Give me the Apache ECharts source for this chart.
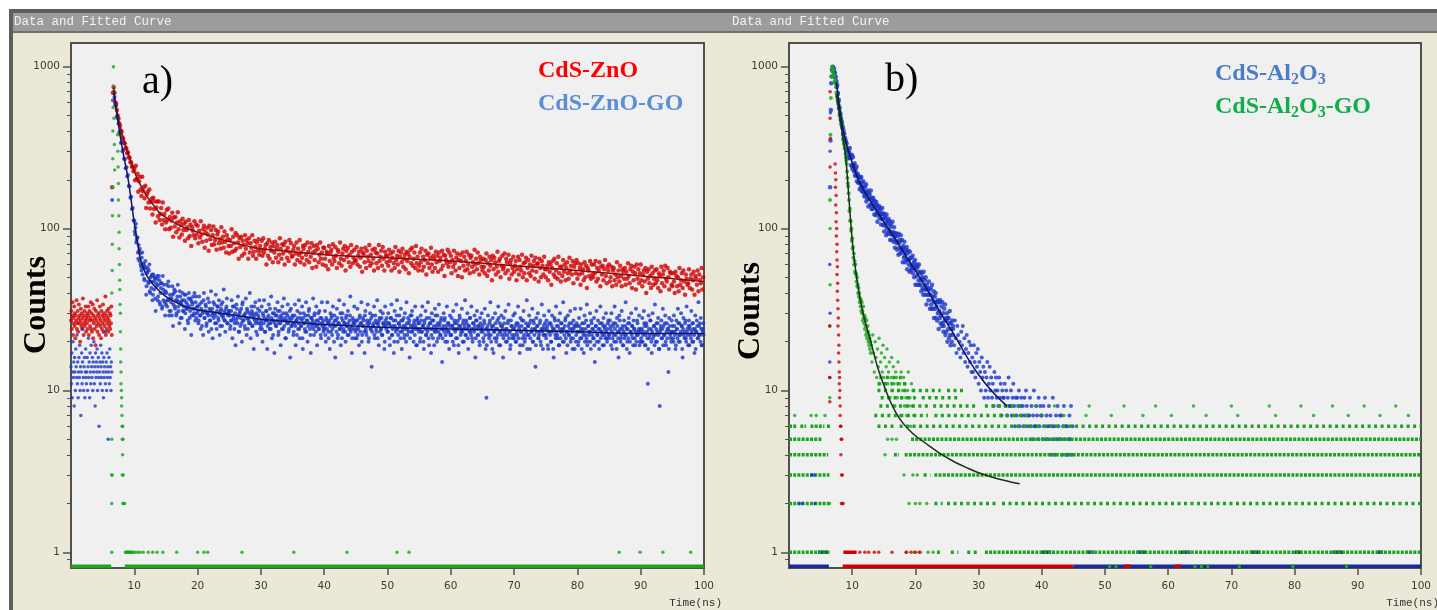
<!DOCTYPE html>
<html>
<head>
<meta charset="utf-8">
<script src="https://cdn.jsdelivr.net/npm/echarts@6.0.0/dist/echarts.min.js"></script>
<style>
  html, body { margin: 0; padding: 0; background: #ffffff; }
  #chart { width: 1437px; height: 610px; }
</style>
</head>
<body>
<div id="chart"></div>
<script>
// ---------------------------------------------------------------------------
// Time-resolved PL decays (TCSPC counts vs time in ns), two panels.
// Channel arrays hold counts at t = t0 + i * dt.
// ---------------------------------------------------------------------------

// Axis ticks
const X_TICKS = [10, 20, 30, 40, 50, 60, 70, 80, 90, 100];
const Y_MAJOR = [1, 10, 100, 1000];
const Y_MINOR = [0.9, 2, 3, 4, 5, 6, 7, 8, 9, 20, 30, 40, 50, 60, 70, 80, 90, 200, 300, 400, 500, 600, 700, 800, 900];
const Y_MIN = 0.8, Y_MAX = 1400;
const ZERO_LEVEL = 0.82;   // zero-count channels sit on the floor of the log axis

// ---------------- panel a : CdS-ZnO / CdS-ZnO-GO ----------------
const PRE_T0 = 0, PRE_DT = 0.0625;
const ZNO_PRE = [27,31,24,29,35,22,28,26,33,25,30,21,29,27,36,24,26,31,23,28,34,26,29,20,27,32,25,30,24,28,37,26,22,29,31,25,27,33,23,28,
  26,30,24,29,33,22,27,31,25,28,35,24,30,23,27,34,21,29,26,32,24,28,19,31,27,25,36,23,29,26,30,22,28,33,25,27,21,31,24,29,
  26,34,23,28,30,25,27,38,22,29,24,31,26,28,23,32,27,25,30,24,29,26,33,22];
const ZNOGO_PRE = [14,11,17,9,13,20,12,15,8,16,13,10,18,14,12,22,11,15,9,13,16,12,19,10,14,7,13,17,11,15,24,12,10,14,16,9,13,18,12,11,
  13,16,10,14,21,12,15,9,17,13,11,19,14,12,16,10,15,13,20,11,14,8,17,12,15,13,18,10,14,16,12,6,13,15,11,19,14,12,17,10,
  15,13,9,16,12,14,23,11,13,15,10,17,12,14,5,13,16,11,18,12,14,10,15,13];

const DECAY_T0 = 6.5, DECAY_DT = 0.125;
const ZNO_DECAY = [
  180,690,745,690,600,592,540,498,478,446,432,402,396,366,358,338,336,314,312,292,296,276,274,258,256,242,241,226,
  234,199,244,203,218,169,196,209,174,159,209,170,180,154,184,134,163,169,145,174,133,146,153,122,155,132,147,109,135,147,119,147,113,123,134,106,145,113,123,99,
  109,130,113,133,99,118,101,112,125,89,117,103,118,95,109,126,99,88,111,105,92,115,98,107,84,110,98,102,87,113,90,106,78,102,97,91,111,87,106,92,
  104,81,97,88,111,92,83,99,104,76,95,84,101,92,73,104,86,98,79,91,103,80,85,98,74,92,96,81,86,75,102,82,89,76,96,83,71,91,86,78,
  70,85,78,99,72,89,81,73,94,75,91,82,65,87,77,89,68,84,79,70,91,75,85,81,65,87,71,81,76,91,68,72,84,77,65,82,73,86,69,78,
  73,84,68,87,71,75,79,60,81,68,85,65,77,73,82,62,78,71,83,66,75,79,62,69,87,75,65,80,70,79,60,83,73,66,76,63,85,71,81,67,
  68,74,78,60,70,82,64,75,69,85,62,71,66,78,75,60,79,69,64,82,72,62,76,67,81,57,71,78,64,73,58,79,75,62,69,82,65,71,60,76,
  76,65,59,72,70,56,78,63,71,74,60,80,66,63,77,68,57,74,72,61,82,65,59,70,75,64,78,55,73,67,76,62,69,58,79,72,61,66,74,63,
  64,77,60,68,72,58,66,75,54,71,69,62,76,57,73,67,63,79,59,69,61,74,65,55,75,71,61,70,57,79,63,67,73,59,77,65,55,72,68,62,
  68,59,74,63,70,55,66,72,61,57,77,64,68,60,73,54,67,71,62,75,58,65,69,56,72,63,70,53,67,74,61,76,59,65,71,57,78,61,67,55,
  59,71,62,75,55,67,58,64,73,52,69,61,70,57,66,76,60,54,68,65,57,72,62,68,54,71,63,66,56,73,59,69,51,68,64,61,74,58,71,62,
  68,53,64,58,73,61,55,66,70,51,64,57,69,63,50,71,59,67,55,63,72,56,60,69,53,66,68,58,62,54,74,60,65,56,71,61,52,67,64,58,
  55,65,58,53,64,70,51,61,55,67,59,64,48,68,56,66,62,52,58,72,54,63,65,50,59,68,56,58,70,53,65,62,55,69,49,61,64,52,57,67,
  54,59,63,48,56,67,52,64,58,55,69,50,61,53,62,66,48,57,64,53,60,51,68,55,59,63,49,66,54,60,61,47,65,57,50,63,59,52,67,56,
  50,56,59,48,62,54,60,45,57,63,52,65,50,55,61,49,67,53,58,47,58,51,64,54,60,48,57,62,53,49,66,55,59,52,63,46,58,61,53,64,
  49,61,52,57,45,60,53,56,48,62,50,59,43,57,55,51,63,49,60,52,50,60,53,63,47,57,49,55,62,44,58,52,59,48,56,64,51,46,58,55,
  60,47,50,58,44,55,57,48,52,45,62,50,55,47,59,51,44,56,54,49,57,45,54,49,61,51,46,56,59,43,54,48,58,53,42,60,49,56,46,53,
  60,48,44,52,55,47,57,40,54,49,56,46,51,43,58,53,45,49,55,46,56,48,43,53,51,41,58,46,52,55,44,59,49,47,57,50,42,54,53,45,
  44,53,47,40,54,51,44,50,41,57,45,48,53,43,55,47,39,52,49,45,46,56,43,49,52,42,48,54,39,51,49,45,55,41,52,48,46,57,42,50
];
const ZNOGO_DECAY = [
  150,620,700,650,578,575,492,481,446,392,385,338,341,300,306,270,268,236,239,210,214,183,182,155,157,132,134,112,
  112,92,107,85,88,65,73,75,60,55,71,57,60,48,63,39,53,57,46,60,40,47,51,36,52,42,49,31,44,51,38,51,35,40,46,32,51,36,40,29,
  34,45,36,47,29,39,31,37,44,25,40,33,41,29,36,45,31,26,38,35,28,40,31,36,24,39,32,34,26,40,28,37,22,35,32,29,40,27,38,30,
  33,26,38,29,24,35,31,22,40,28,34,25,30,37,23,32,27,41,29,21,35,30,26,39,24,33,28,36,22,31,34,25,29,42,27,23,32,37,26,30,
  31,24,27,36,21,29,33,26,19,34,28,38,23,30,25,32,20,35,27,29,24,37,22,31,28,26,40,21,33,25,30,18,29,35,23,27,32,26,36,24,
  25,33,20,29,36,23,27,31,18,28,34,24,26,38,21,30,27,17,32,25,29,35,22,26,31,19,28,33,24,37,27,21,30,26,34,23,28,16,32,25,
  29,22,26,34,19,27,31,24,36,21,28,25,33,18,30,26,23,35,27,20,29,32,24,17,28,26,37,22,30,25,33,19,27,24,31,28,21,35,26,23,
  24,31,20,27,35,23,26,18,30,28,22,33,25,29,16,27,32,21,26,36,24,19,28,30,23,34,26,20,29,25,31,22,27,38,24,17,28,26,33,21,
  27,21,32,24,19,29,26,35,22,28,25,17,31,23,27,34,20,26,30,24,14,29,25,33,21,27,23,36,26,19,28,31,24,22,30,26,18,33,25,28,
  23,30,26,19,28,34,22,25,17,31,27,24,36,20,26,29,23,32,18,27,25,21,30,24,35,22,28,26,16,29,23,31,25,20,27,33,24,19,28,26,
  26,20,29,23,33,25,18,27,31,22,24,35,21,28,26,17,30,24,27,19,32,23,25,29,21,34,26,22,28,15,24,30,27,20,25,33,23,26,18,29,
  22,28,25,31,19,26,24,34,21,27,17,29,25,23,32,20,27,24,36,22,26,30,18,25,28,23,33,21,26,24,29,16,27,31,22,25,20,28,24,30,
  25,21,27,32,18,9,24,29,22,26,35,20,25,28,17,23,30,24,21,27,33,19,26,23,29,25,16,28,22,31,24,20,26,34,23,18,27,25,21,29,
  24,30,20,26,22,33,25,17,28,23,27,19,31,24,21,26,36,22,25,29,18,27,23,32,20,26,24,14,28,25,30,21,23,27,19,34,24,22,29,26,
  22,27,25,18,31,23,26,20,29,24,16,28,22,33,25,21,27,19,30,23,26,24,35,20,25,28,17,23,29,22,26,31,21,24,18,27,25,32,20,26,
  25,19,28,23,32,21,26,24,17,29,22,27,34,20,25,23,30,18,26,24,21,28,15,25,31,22,27,20,24,33,23,26,19,28,22,25,30,21,24,27,
  21,27,24,30,18,25,22,33,26,20,28,23,16,29,24,21,31,25,19,27,22,35,24,20,26,28,17,23,30,25,21,27,24,19,32,22,26,23,29,20,
  24,20,28,22,31,25,19,26,23,11,29,21,27,24,17,30,22,25,34,20,26,23,28,18,8,24,27,21,32,25,22,29,19,26,24,13,28,23,21,27,
  25,21,29,23,18,27,24,32,20,26,22,30,25,16,28,23,26,21,33,24,19,27,25,22,31,20,26,24,17,29,23,27,21,35,25,22,28,19,24,26
];
// second set of CdS-ZnO-GO channels, interleaved half a channel later
const ZNOGO_T0_B = 10.0625;
const ZNOGO_DECAY_B = [
  96,101,82,88,71,79,63,70,58,66,52,61,49,58,57,44,54,47,55,41,50,43,52,39,47,50,37,46,49,36,45,48,34,43,46,33,42,45,35,41,
  40,33,36,44,31,37,35,29,39,34,42,32,36,30,38,33,35,41,28,34,36,31,33,39,30,35,32,27,37,33,31,36,29,34,38,30,32,35,28,33,
  31,27,34,29,32,25,30,36,28,31,33,26,30,29,35,27,31,24,32,30,28,34,29,26,31,33,27,30,25,32,29,35,28,31,27,30,33,26,29,31,
  29,25,31,27,33,28,24,30,27,32,26,29,23,31,28,26,34,27,29,25,30,28,32,24,27,30,26,29,31,25,28,33,27,26,30,22,29,28,31,26,
  27,24,30,26,28,23,31,27,25,29,26,32,24,28,27,22,30,26,29,25,27,31,23,28,26,29,24,27,30,25,28,21,27,29,26,24,31,27,25,28,
  26,23,29,25,27,22,28,26,24,30,25,27,21,28,26,24,29,23,27,25,31,26,22,28,25,27,24,29,26,23,27,25,30,24,26,22,28,25,27,24,
  25,22,28,24,26,21,27,25,23,29,24,26,20,27,25,23,28,22,26,24,30,25,21,27,24,26,23,28,25,22,26,24,29,23,25,21,27,24,26,23,
  24,27,22,25,28,23,26,20,25,27,23,29,24,22,26,25,21,27,24,28,23,25,26,22,29,24,26,21,25,27,23,24,28,22,26,25,20,27,24,26,
  23,26,21,25,28,22,24,27,20,25,23,29,24,22,26,25,21,27,23,24,28,22,25,20,26,24,23,27,21,25,29,23,24,26,22,25,19,27,24,23,
  24,21,27,23,25,20,26,24,22,28,23,25,19,26,24,22,27,21,25,23,29,24,20,26,23,25,22,27,24,21,25,23,28,22,24,20,26,23,25,22,
  22,25,20,24,27,23,21,26,24,19,25,28,22,24,23,26,20,25,22,27,24,21,25,23,28,22,24,20,26,23,25,21,27,24,22,25,19,26,23,24,
  23,20,26,22,24,19,25,23,21,27,22,24,18,25,23,21,26,20,24,22,28,23,19,25,22,24,21,26,23,20,24,22,27,21,23,19,25,22,24,21,
  22,25,20,23,26,21,24,19,23,25,21,27,22,20,24,23,18,25,22,26,21,23,24,20,27,22,24,19,23,25,21,22,26,20,24,23,18,25,22,24,
  21,24,19,23,26,22,20,25,23,18,24,27,21,23,22,25,19,24,21,26,23,20,24,22,27,21,23,19,25,22,24,20,26,23,21,24,18,25,22,23,
  23,20,25,21,24,18,23,22,26,20,24,21,19,25,22,23,20,27,22,24,21,19,23,25,20,22,24,18,26,21,23,22,25,19,24,21,23,20,26,22,
  22,25,19,23,21,26,20,24,22,18,25,21,23,27,20,22,24,19,23,21,25,22,18,24,21,26,20,23,22,25,19,24,21,23,20,27,22,24,19,23,
  21,24,20,23,26,19,22,25,21,18,24,22,27,20,23,21,25,19,22,24,20,26,22,18,23,25,21,24,19,22,26,20,23,21,24,18,25,22,20,23,
  23,20,25,22,19,24,21,26,22,20,23,25,18,24,22,21,27,20,23,22,25,19,24,21,23,26,20,22,24,18,23,25,21,22,26,20,24,19,23,22
];

// instrument response (green) in panel a: [time, counts]
const IRF_A = [
  [6.45,5],[6.48,3],[6.5,55],[6.52,80],[6.55,120],[6.57,180],[6.6,270],[6.62,400],[6.65,560],[6.68,760],[6.7,1000],
  [6.75,700],[6.8,480],[6.85,330],[6.9,230],[6.45,40],
  [7.35,380],[7.4,300],[7.45,240],[7.5,190],[7.5,150],[7.55,120],[7.6,95],[7.6,75],[7.65,60],[7.7,48],[7.7,42],
  [7.75,34],[7.8,30],[7.8,23],[7.85,18],[7.85,15],[7.9,13],[7.9,11],[7.95,10],[8.0,9],[8.0,8],[8.05,7],[8.1,6],
  [8.15,6],[8.1,5],[8.2,5],[8.15,4],[8.1,3],[8.25,3],[8.2,2],[8.35,2],[8.45,2],[6.45,3],[6.45,2]
];
// single-count channels of the instrument response, panel a
const IRF_A_ONES = [6.45,8.6,8.75,8.9,9.0,9.1,9.2,9.35,9.5,9.6,9.8,10.1,10.5,10.9,11.4,12.2,12.9,13.6,14.5,16.7,
  20.0,21.0,21.6,27.0,35.2,43.6,51.5,53.4,86.6,89.9,93.5,97.9];
// runs of zero-count channels: [level, from, to]
const IRF_A_ZERO = [[0, 0, 6.35], [0, 8.5, 100]];

// fitted decay curves, panel a
const FIT_ZNO = [[6.75,745],[7,610],[7.5,478],[8,390],[8.5,335],[9,293],[9.5,258],[10,225],[11,185],[12,158],[13,140],[14,125],
  [15,117],[17,105],[20,95],[25,83],[30,75],[35,72],[40,69],[50,66],[60,63],[70,59],[80,55],[90,51],[100,47]];
const FIT_ZNOGO = [[6.75,700],[7,590],[7.5,435],[8,330],[8.5,260],[9,205],[9.5,150],[10,108],[10.5,82],[11,64],[11.5,56],[12,51],
  [13,45],[14,41],[15,38],[16,36],[18,33],[20,31.5],[25,29.5],[30,27.5],[35,26.5],[40,25.5],[50,24.5],[60,24],[70,23.5],[80,23],[90,22.5],[100,22.5]];

// ---------------- panel b : CdS-Al2O3 / CdS-Al2O3-GO ----------------
const FINE_T0 = 6.5, FINE_DT = 0.0625;
const AL_DECAY = [
  180,350,540,790,870,960,940,1000,985,930,970,905,920,860,870,800,
  815,750,770,690,680,610,625,550,560,500,515,470,475,440,455,420,
  425,385,405,360,385,345,362,330,348,312,335,296,310,280,302,272,
  297,274,314,285,281,246,272,286,241,232,277,247,243,225,253,212,226,234,215,242,196,210,218,192,
  211,193,208,175,192,205,182,208,171,181,192,168,196,169,178,158,
  160,182,166,188,147,168,152,163,172,137,166,153,163,140,155,172,141,132,154,149,132,155,139,148,
  122,148,136,141,121,146,125,140,110,133,129,124,138,116,134,121,
  129,106,123,114,134,115,105,123,124,96,116,104,118,109,91,122,100,112,94,107,115,93,98,111,
  85,103,106,92,95,85,110,92,95,83,102,89,76,94,90,84,
  93,81,74,90,83,69,93,76,82,85,70,91,74,71,85,75,62,78,76,66,83,68,62,72,74,64,77,56,70,64,73,60,
  64,54,72,66,55,59,66,57,
  57,68,53,60,62,50,56,64,45,58,57,51,60,45,58,54,48,60,45,53,45,54,48,41,53,50,43,49,39,54,42,45,
  48,39,50,42,34,45,43,39,
  42,36,47,39,42,32,39,43,34,32,45,36,38,32,41,28,35,38,32,40,28,33,35,27,36,30,35,24,31,35,28,36,
  26,29,33,25,35,26,30,23,25,32,27,34,22,28,23,27,30,20,28,24,28,21,26,31,22,19,26,24,20,27,22,25
];
const TAIL_T0 = 26, TAIL_DT = 0.125;
const AL_TAIL = [
  24,19,27,21,17,25,22,18, 20,16,23,19,25,17,21,15, 18,22,14,17,20,15,19,13, 16,13,19,15,12,17,14,18,
  11,15,13,10,16,12,14,9, 13,10,12,15,9,11,14,10, 12,9,11,8,13,10,12,9, 10,8,12,9,11,7,10,9,
  9,11,8,10,7,9,12,8, 8,10,7,9,11,8,6,9, 7,9,8,10,6,8,9,7, 8,6,9,7,10,8,6,7,
  7,9,6,8,5,7,10,6, 6,8,7,5,9,6,8,7, 7,5,8,6,9,5,7,6, 5,8,6,7,4,6,9,5,
  6,4,7,5,8,6,5,7, 5,7,4,6,8,5,6,4, 6,4,5,7,5,8,4,6
];
const ALGO_DECAY = [
  150,380,640,870,960,1000,975,940,960,900,870,880,820,790,800,750,
  690,650,665,620,590,605,560,575,510,525,490,500,445,460,425,440,
  380,355,362,335,330,312,318,290,275,262,250,225,205,190,182,165,
  150,128,133,112,111,97,100,84,87,75,77,66,70,60,63,54,
  60,53,52,47,50,44,45,40,43,38,40,35,37,33,36,31,
  35,30,31,27,33,28,26,29,24,28,25,22,27,23,21,25,
  23,20,22,19,21,18,20,17
];
const MID_T0 = 13, MID_DT = 0.125;
const ALGO_MID = [19,15,22,17,13,20,16,12,18,14,21,11,15,17,13,19,12,16,10,14,18,11,13,15,9,12,16,10,14,11,8,13,
  12,9,15,10,11,7,13,9,10,12,8,11,9,7,10,13,8,9,6,11,8,10,7,9];

// rising-edge points of all traces, panel b: [time, counts]
const AL_EDGE = [[6.45,12],[6.45,15],[6.5,30],[6.45,60],[6.5,300],[6.55,520]];
const ALGO_EDGE = [[6.4,2],[6.45,9],[6.45,25],[6.5,45],[6.5,100]];
const IRF_B = [[6.5,700],[6.5,480],[6.55,360],[6.5,240],[6.45,25],[6.45,12],[6.45,8.5],
  [7.3,250],[7.35,220],[7.4,200],[7.35,180],[7.45,160],[7.4,140],[7.5,125],[7.45,110],[7.55,100],[7.5,90],[7.6,80],
  [7.55,72],[7.6,64],[7.65,58],[7.6,52],[7.7,46],[7.65,41],[7.7,36],[7.75,32],[7.8,28],[7.75,25],[7.85,22],[7.9,19],
  [7.85,17],[7.9,15],[7.95,13],[8.0,12],[7.95,11],[8.05,10],[8.0,9],[8.1,8],[8.1,7],[8.15,6],[8.2,6],[8.25,5],[8.35,5],
  [8.2,4],[8.3,3],[8.45,3],[8.3,2],[8.45,2],[8.55,2]];

// runs of channels sharing one integer count: [count, from, to]
const ALGO_RUNS_DENSE = [
  [1,0,6.4],[1,31,100],
  [2,0,6.4],
  [3,0,6.4],[3,23,100],
  [4,0,6.2],[4,16.6,17.4],[4,18.3,100],
  [5,0,5.2],[5,19.3,100],
  [6,0,1.3],[6,1.8,2.7],[6,3.4,5.6],[6,6,6.6]
];
const ALGO_RUNS_LOOSE = [
  [1,23.4,24.4],[1,25.6,26.8],[1,28.2,30.1],
  [2,23,24.3],[2,25,33],[2,33.7,100],
  [3,21.3,22.4],
  [6,14,17],[6,17.5,100],
  [7,13.5,22],[7,23,38],
  [8,14.3,22],[8,22.8,30],[8,31,36.5],
  [9,14.5,20],[9,21,27],
  [10,14,18.5],[10,19.5,24],[10,25,28],
  [11,14,16.5],[11,17,19],
  [12,14.3,18.2],
  [0,50.5,52],[0,57,58],[0,64,66.5],[0,71,72],[0,79.5,80.5],[0,88,89]
];
const ALGO_DOTS = [[0.9,7],[3.5,7],[4.3,7],[5.7,7],[40,7],[43.5,7],[47,7],[51,7],[56,7],[60.5,7],[66,7],[71,7],[77,7],[83,7],
  [88.5,7],[93.5,7],[98,7],[39,8],[42,8],[47.5,8],[53,8],[58,8],[64,8],[70,8],[76,8],[81,8],[86,8],[91,8],[96,8],
  [19,2],[20,2],[20.7,2],[21.8,2],[18.2,3],[19.6,3],[20.3,3],[15.6,5],[16.3,5],[17,5],[15.2,4],
  [18.5,1],[19.8,1],[20.8,1],[22,1],[22.8,1]];
const AL_RUNS = [[0,0,6.3],[0,45,100],[1,4.6,6.1],[1,40,41.5],[1,47,48.2],[1,55,56.5],[1,62,63.5],[1,73,74.5],
  [1,80,81],[1,86,87.5],[1,93,94]];
const AL_DOTS = [[1.6,2],[2.1,2],[4.1,2],[3.6,3],[4.0,3]];
const IRF_B_RUNS = [[1,8.6,10.7],[0,8.5,45],[0,53,54],[0,61,62]];
const IRF_B_DOTS = [[11.2,1],[12,1],[12.6,1],[13.5,1],[14.2,1],[16.3,1],[18.6,1],[19.3,1],[20,1],[20.6,1]];

// fitted decay curves, panel b
const FIT_ALGO = [[7.5,680],[8,500],[8.5,370],[9,270],[9.5,150],[10,85],[10.5,57],[11,42],[11.5,33],[12,27],[12.8,21],
  [14,14],[15,10.8],[16,8.6],[17,7.2],[18,6.3],[19,5.7],[20,5.25],[22,4.6],[24,4.05],[26,3.65],[28,3.35],[30,3.1],
  [33,2.85],[36.5,2.65]];
const FIT_AL = [[7.5,800],[8,560],[8.5,420],[9,340],[10,255],[11,200],[12,168],[13,145],[14,126],[15,110],[16,96],[17,84],
  [18,73],[19,63],[20,55],[22,41],[24,30],[26,22.5],[28,16.5],[30,12.5],[32,10],[34.5,8]];

// ---------------------------------------------------------------------------
const RED = '#d00000', BLUE = '#1a37c8', GREEN = '#18a61c';

function channels(values, t0, dt) {
  return values.map((c, i) => [t0 + i * dt, c]).filter(p => p[1] > 0);
}
function levelY(c) { return c === 0 ? ZERO_LEVEL : c; }

function scatter(panel, data, color, size, z) {
  return { type: 'scatter', xAxisIndex: panel, yAxisIndex: panel * 2, data, symbol: 'circle',
    symbolSize: size || 3, itemStyle: { color }, silent: true, z: z || 2 };
}
function runs(panel, list, color, dash, z) {
  const data = [];
  list.forEach(([c, a, b]) => { data.push([a, levelY(c)], [b, levelY(c)], [b, '-']); });
  return { type: 'line', xAxisIndex: panel, yAxisIndex: panel * 2, data, symbol: 'none', connectNulls: false,
    lineStyle: { color, width: 3.5, type: dash }, silent: true, z: z || 2 };
}
function dots(panel, list, color, z) {
  return scatter(panel, list.map(([t, c]) => [t, levelY(c)]), color, 3.5, z);
}
function fit(panel, data, color) {
  return { type: 'line', xAxisIndex: panel, yAxisIndex: panel * 2, data, symbol: 'none', smooth: 0.35,
    lineStyle: { color, width: 1.5 }, silent: true, z: 6 };
}

const grids = [
  { left: 71, top: 43, width: 633, height: 525 },
  { left: 789, top: 43, width: 632, height: 525 }
].map(g => Object.assign(g, { show: true, backgroundColor: '#f0f0f0', borderColor: '#505050', borderWidth: 2 }));

const tickFont = { fontFamily: 'DejaVu Sans', fontSize: 10.5, color: '#3a3a3a' };

const xAxes = [0, 1].map(i => ({
  type: 'value', gridIndex: i, min: 0, max: 100, interval: 10,
  axisLine: { show: false }, splitLine: { show: false },
  axisTick: { show: true, length: 7, customValues: X_TICKS, lineStyle: { color: '#505050', width: 1.5 } },
  axisLabel: Object.assign({ customValues: X_TICKS, margin: 13 }, tickFont)
}));

const yAxes = [];
[0, 1].forEach(i => {
  yAxes.push({
    type: 'log', gridIndex: i, position: 'left', min: Y_MIN, max: Y_MAX, logBase: 10,
    axisLine: { show: false }, splitLine: { show: false },
    axisTick: { show: true, length: 8, customValues: Y_MAJOR, lineStyle: { color: '#505050', width: 1.5 } },
    axisLabel: Object.assign({ customValues: Y_MAJOR, margin: 11, formatter: v => String(Math.round(v)) }, tickFont)
  });
  yAxes.push({
    type: 'log', gridIndex: i, position: 'left', offset: 0, min: Y_MIN, max: Y_MAX, logBase: 10,
    axisLine: { show: false }, splitLine: { show: false }, axisLabel: { show: false },
    axisTick: { show: true, length: 4, customValues: Y_MINOR, lineStyle: { color: '#505050', width: 1 } }
  });
});

const DENSE = [3, 1.2], LOOSE = [3, 3.5];

const series = [
  // panel a
  runs(0, IRF_A_ZERO, GREEN, 'solid', 1),
  scatter(0, channels(ZNO_PRE, PRE_T0, PRE_DT), RED, 4),
  scatter(0, channels(ZNO_DECAY, DECAY_T0, DECAY_DT), RED, 4.5),
  scatter(0, channels(ZNOGO_PRE, PRE_T0, PRE_DT), BLUE, 3.5, 3),
  scatter(0, channels(ZNOGO_DECAY, DECAY_T0, DECAY_DT), BLUE, 4, 3),
  scatter(0, channels(ZNOGO_DECAY_B, ZNOGO_T0_B, DECAY_DT), BLUE, 4, 3),
  scatter(0, IRF_A, GREEN, 3.5, 4),
  scatter(0, IRF_A_ONES.map(t => [t, 1]), GREEN, 3.5, 4),
  fit(0, FIT_ZNO, '#8a0a0a'),
  fit(0, FIT_ZNOGO, '#14145a'),
  // panel b
  scatter(1, channels(AL_TAIL, TAIL_T0, TAIL_DT), BLUE, 4, 1),
  runs(1, AL_RUNS, '#1a2a9a', 'solid', 1),
  runs(1, ALGO_RUNS_DENSE, GREEN, DENSE, 2),
  runs(1, ALGO_RUNS_LOOSE, GREEN, LOOSE, 2),
  dots(1, ALGO_DOTS, GREEN, 2),
  dots(1, AL_DOTS, BLUE, 3),
  runs(1, IRF_B_RUNS, RED, 'solid', 3),
  dots(1, IRF_B_DOTS, RED, 3),
  scatter(1, channels(AL_DECAY, FINE_T0, FINE_DT), BLUE, 4.5, 3),
  scatter(1, AL_EDGE, BLUE, 3.5, 3),
  scatter(1, channels(ALGO_DECAY, FINE_T0, FINE_DT), GREEN, 4, 4),
  scatter(1, channels(ALGO_MID, MID_T0, MID_DT), GREEN, 3.5, 4),
  scatter(1, ALGO_EDGE, GREEN, 3.5, 4),
  scatter(1, IRF_B, RED, 3.5, 4),
  fit(1, FIT_ALGO, '#1c301c'),
  fit(1, FIT_AL, '#10105e')
];

const serif = '"Liberation Serif", "Times New Roman", serif';
function label(x, y, text, font, fill, extra) {
  return Object.assign({ type: 'text', x, y, silent: true, z: 10,
    style: Object.assign({ text, font, fill, align: 'left', verticalAlign: 'middle' }, extra || {}) });
}
function subLabel(x, y, text, fill) {
  return { type: 'text', x, y, silent: true, z: 10,
    style: { text, align: 'left', verticalAlign: 'middle',
      rich: { n: { font: 'bold 24px ' + serif, fill }, s: { font: 'bold 16px ' + serif, fill, padding: [11, 0, 0, 0] } } } };
}

const graphic = [
  { type: 'rect', shape: { x: 0, y: 0, width: 1437, height: 9 }, style: { fill: '#ffffff' }, silent: true },
  { type: 'rect', shape: { x: 0, y: 0, width: 9, height: 610 }, style: { fill: '#ffffff' }, silent: true },
  { type: 'rect', shape: { x: 9, y: 9, width: 1428, height: 4 }, style: { fill: '#5e5e5e' }, silent: true },
  { type: 'rect', shape: { x: 9, y: 9, width: 4, height: 601 }, style: { fill: '#5e5e5e' }, silent: true },
  { type: 'rect', shape: { x: 13, y: 13, width: 1424, height: 18 }, style: { fill: '#9c9c9c' }, silent: true },
  { type: 'rect', shape: { x: 13, y: 31, width: 1424, height: 2 }, style: { fill: '#707070' }, silent: true },
  label(14, 22, 'Data and Fitted Curve', '12.5px "Liberation Mono", monospace', '#f2f2f2'),
  label(732, 22, 'Data and Fitted Curve', '12.5px "Liberation Mono", monospace', '#f2f2f2'),
  label(722, 603, 'Time(ns)', '11px "Liberation Mono", monospace', '#333333', { align: 'right' }),
  label(1439, 603, 'Time(ns)', '11px "Liberation Mono", monospace', '#333333', { align: 'right' }),
  Object.assign(label(37, 305, 'Counts', 'bold 32px ' + serif, '#000000', { align: 'center' }), { rotation: Math.PI / 2 }),
  Object.assign(label(751, 311, 'Counts', 'bold 32px ' + serif, '#000000', { align: 'center' }), { rotation: Math.PI / 2 }),
  label(142, 82, 'a)', '40px ' + serif, '#000000'),
  label(885, 80, 'b)', '40px ' + serif, '#000000'),
  label(538, 71, 'CdS-ZnO', 'bold 24px ' + serif, '#ff0000'),
  label(538, 104, 'CdS-ZnO-GO', 'bold 24px ' + serif, '#5b8ed6'),
  subLabel(1215, 74, '{n|CdS-Al}{s|2}{n|O}{s|3}', '#4a7cc7'),
  subLabel(1215, 107, '{n|CdS-Al}{s|2}{n|O}{s|3}{n|-GO}', '#12ad4a')
];

const chart = echarts.init(document.getElementById('chart'), null, { renderer: 'canvas' });
chart.setOption({
  backgroundColor: '#ebe8d8',
  animation: false,
  grid: grids,
  xAxis: xAxes,
  yAxis: yAxes,
  series,
  graphic
});
</script>
</body>
</html>
